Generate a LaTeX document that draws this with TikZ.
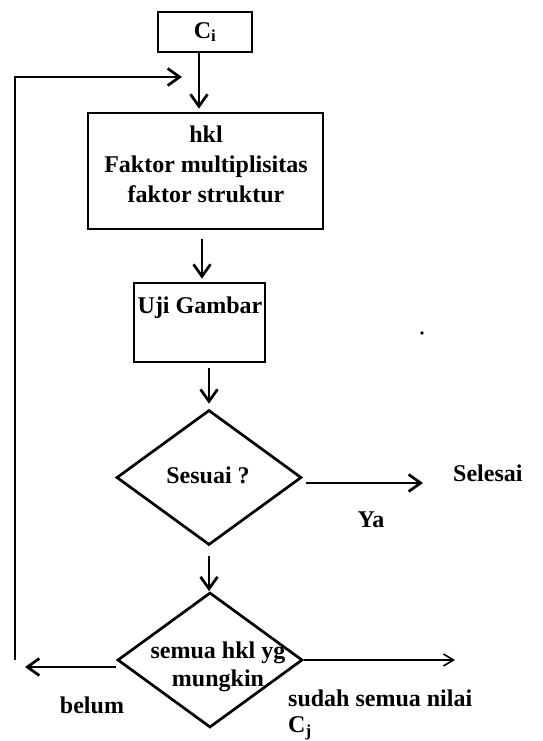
\documentclass[tikz,border=0pt]{standalone}
\usepackage{fontspec}
\setmainfont{Liberation Serif}
\usetikzlibrary{shapes.geometric,arrows.meta}
\begin{document}
\begin{tikzpicture}[x=1pt,y=-1pt,
  lw/.style={line width=2.7pt},
  boxnode/.style={draw,lw,inner sep=0pt},
  dia/.style={diamond,draw,lw,inner sep=0pt,minimum width=185pt,minimum height=135pt},
  lbl/.style={inner sep=0pt,font=\fontsize{24}{30}\selectfont\bfseries},
  arr/.style={lw,-{Straight Barb[length=12pt,width=17pt,line width=2.7pt]}},
  arrthin/.style={line width=1.6pt,-{Straight Barb[length=10pt,width=12pt,line width=1.6pt]}}]
\useasboundingbox (0,0) rectangle (542,741);
\fill[white] (0,0) rectangle (542,741);
% boxes
\node[boxnode,minimum width=94pt,minimum height=40pt,font=\fontsize{24}{30}\selectfont\bfseries] (ci) at (205,32) {C\textsubscript{i}};
\node[boxnode,minimum width=235pt,minimum height=116pt] (hkl) at (205.5,171) {};
\node[lbl,align=center] (hkltext) at (206,164) {hkl\\Faktor multiplisitas\\faktor struktur};
\node[boxnode,minimum width=131pt,minimum height=79pt] (uji) at (199.5,322.5) {};
\node[lbl] (ujitext) at (200,308) {Uji Gambar};
\node[dia] (d1) at (209,477.5) {};
\node[lbl] (sesuai) at (208,475) {Sesuai ?};
\node[dia] (d2) at (210,660) {};
\node[lbl,align=center,font=\fontsize{24}{28}\selectfont\bfseries] (semua) at (218,667) {semua hkl yg\\mungkin};
% labels
\node[lbl,anchor=west] (selesai) at (453,473) {Selesai};
\node[lbl] (ya) at (371,520) {Ya};
\node[lbl] (belum) at (92,705) {belum};
\node[lbl,anchor=west] (sudah) at (288,698) {sudah semua nilai};
\node[lbl,anchor=west] (cj) at (288,728) {C\textsubscript{j}};
% free ends
\coordinate (yaend) at (423,483);
\coordinate (send) at (455,660);
\coordinate (bend) at (25,667);
\coordinate (lb) at (15,660);
\coordinate (lt) at (15,77);
\coordinate (ltip) at (182,77);
% connectors
\draw[arr,shorten >=3pt] ([xshift=-6pt]ci.south) -- ([xshift=-6pt]ci.south |- hkl.north);
\draw[arr,shorten <=9pt,shorten >=3pt] ([xshift=-3.5pt]hkl.south) -- ([xshift=-3.5pt]hkl.south |- uji.north);
\draw[arr,shorten <=5pt,shorten >=5pt] (uji.south -| d1.north) -- (d1.north);
\draw[arr,shorten <=10pt] (d1.south) -- (d1.south |- d2.north);
\draw[arr,shorten <=3pt] (d1.east |- yaend) -- (yaend);
\draw[arrthin] (d2.east) -- (send);
\draw[arr] (d2.west |- bend) -- (bend);
\draw[arr,line join=miter] (lb) -- (lt) -- (ltip);
\fill (422,333) circle (1.8pt);
\end{tikzpicture}
\end{document}
